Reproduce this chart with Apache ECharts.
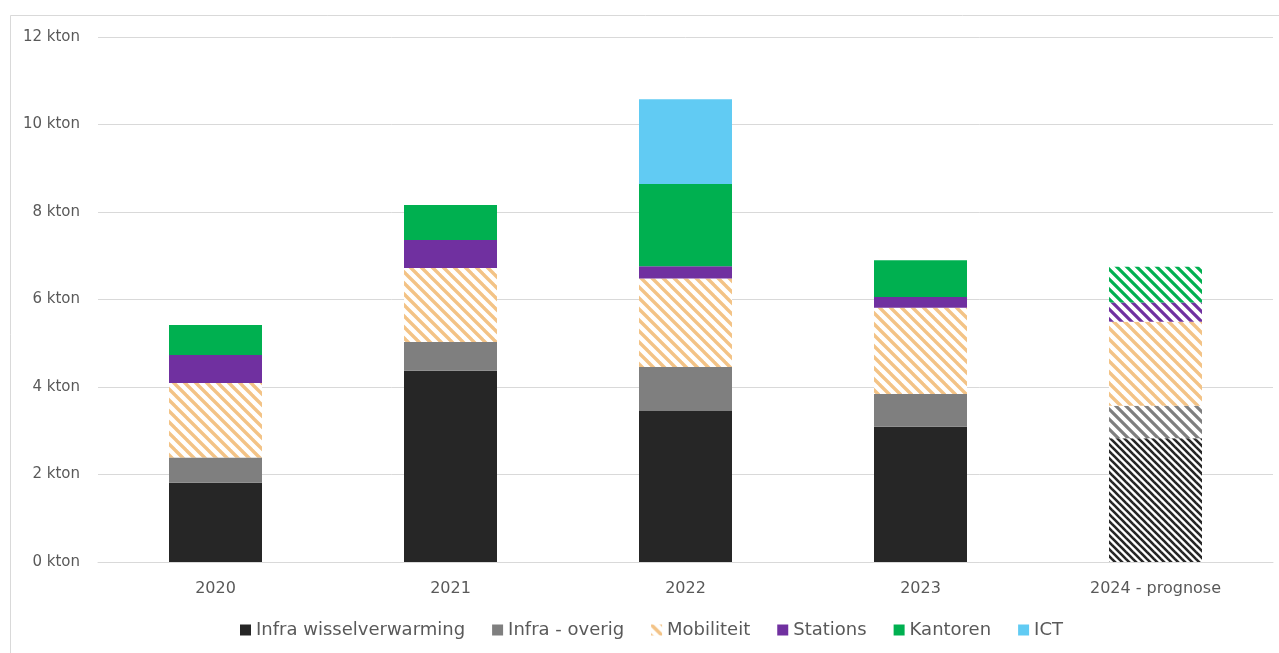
<!DOCTYPE html>
<html>
<head>
<meta charset="utf-8">
<script src="https://cdn.jsdelivr.net/npm/echarts@6/dist/echarts.min.js"></script>
<style>
  html, body { margin: 0; padding: 0; background: #fff; }
  #chart { width: 1279px; height: 653px; }
</style>
</head>
<body>
<div id="chart"></div>
<script>
// jaren
const categories = ['2020', '2021', '2022', '2023', '2024 - prognose'];
const yTicks = [0, 2, 4, 6, 8, 10, 12];

const infraWissel = [1.81, 4.37, 3.45, 3.09, 2.83];
const infraOverig = [0.58, 0.66, 1.01, 0.75, 0.74];
const mobiliteit  = [1.70, 1.69, 2.02, 1.97, 1.92];
const stations    = [0.64, 0.64, 0.28, 0.25, 0.44];
const kantoren    = [0.69, 0.80, 1.88, 0.84, 0.82];
const ict         = [0, 0, 1.94, 0, 0];

const seriesNames = ['Infra wisselverwarming', 'Infra - overig', 'Mobiliteit', 'Stations', 'Kantoren', 'ICT'];
const seriesData = [infraWissel, infraOverig, mobiliteit, stations, kantoren, ict];
const colors = ['#262626', '#7f7f7f', '#f3c386', '#7030a0', '#00b050', '#61cbf3'];

// schuine arcering (\\\) als canvas patroon
function hatch(color, period, lineW) {
  const c = document.createElement('canvas');
  c.width = period; c.height = period;
  const ctx = c.getContext('2d');
  ctx.fillStyle = '#fff';
  ctx.fillRect(0, 0, period, period);
  ctx.strokeStyle = color;
  ctx.lineWidth = lineW;
  ctx.lineCap = 'square';
  for (let k = -1; k <= 1; k++) {
    ctx.beginPath();
    ctx.moveTo(k * period - 3, -3);
    ctx.lineTo(k * period + period + 3, period + 3);
    ctx.stroke();
  }
  return { image: c, repeat: 'repeat' };
}

const hatchFor = [
  hatch('#262626', 7, 2.6),
  hatch('#7f7f7f', 10, 3.2),
  hatch('#f3c386', 11, 3.4),
  hatch('#7030a0', 10, 3.2),
  hatch('#00b050', 10, 3.2),
  hatch('#61cbf3', 10, 3.2)
];

const chart = echarts.init(document.getElementById('chart'));

const series = seriesNames.map((name, i) => ({
  name: name,
  type: 'bar',
  stack: 'totaal',
  barWidth: 93,
  itemStyle: { color: i === 2 ? hatchFor[2] : colors[i] },
  data: seriesData[i].map((v, j) => {
    // prognose-jaar geheel gearceerd
    if (j === categories.length - 1) {
      return { value: v, itemStyle: { color: hatchFor[i] } };
    }
    return v;
  })
}));

chart.setOption({
  animation: false,
  backgroundColor: '#fff',
  textStyle: { fontFamily: 'DejaVu Sans' },
  graphic: [{
    type: 'rect',
    shape: { x: 10.5, y: 15.5, width: 1300, height: 700 },
    style: { fill: 'none', stroke: '#d9d9d9', lineWidth: 1 },
    silent: true,
    z: -1
  }],
  grid: { left: 98, right: 6, top: 37, bottom: 91, containLabel: false },
  legend: {
    bottom: 9,
    left: 235,
    itemWidth: 11,
    itemHeight: 11,
    itemGap: 27,
    textStyle: { color: '#595959', fontSize: 18, fontFamily: 'DejaVu Sans' },
    data: seriesNames.map(n => ({ name: n, icon: 'rect' }))
  },
  xAxis: {
    type: 'category',
    data: categories,
    axisLine: { lineStyle: { color: '#d9d9d9' } },
    axisTick: { show: false },
    axisLabel: { color: '#595959', fontSize: 16, margin: 19 }
  },
  yAxis: {
    type: 'value',
    min: yTicks[0],
    max: yTicks[yTicks.length - 1],
    interval: 2,
    axisLine: { show: false },
    axisTick: { show: false },
    splitLine: { lineStyle: { color: '#d9d9d9' } },
    axisLabel: { color: '#595959', fontSize: 15, margin: 18, formatter: v => v + ' kton' }
  },
  series: series
});
</script>
</body>
</html>
